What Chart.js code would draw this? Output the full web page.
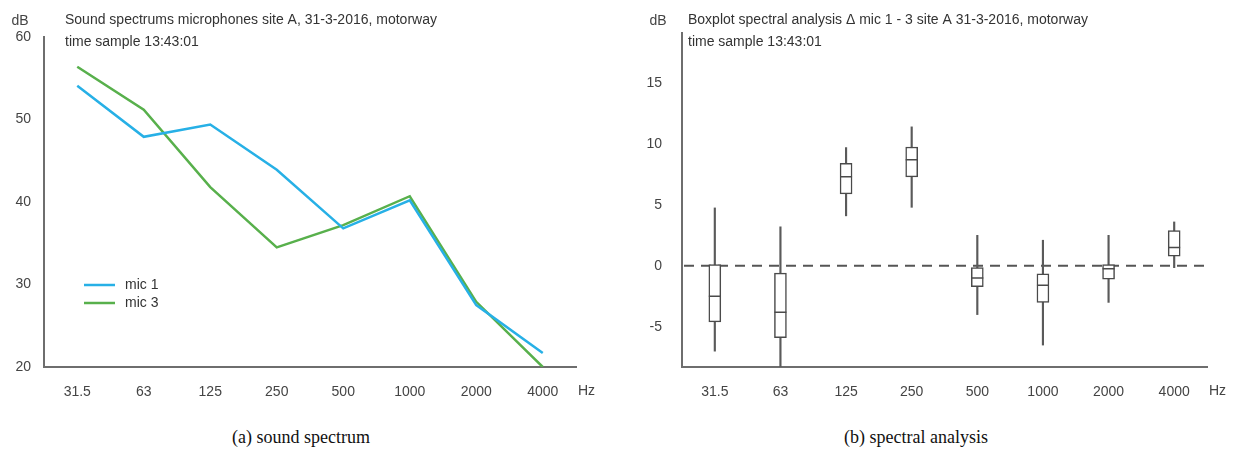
<!DOCTYPE html>
<html>
<head>
<meta charset="utf-8">
<script src="https://cdn.jsdelivr.net/npm/chart.js@4.4.1/dist/chart.umd.min.js"></script>
<style>
    body { margin: 0; background: #fff; width: 1241px; height: 465px; position: relative; overflow: hidden; }
    canvas { position: absolute; top: 0; }
    #spectrum { left: 0; }
    #boxplot { left: 620px; }
    .caption { position: absolute; top: 427px; font-family: "Liberation Serif", "DejaVu Serif", serif; font-size: 18px; color: #111; transform: translateX(-50%); white-space: nowrap; }
</style>
</head>
<body>
<canvas id="spectrum" width="620" height="410"></canvas>
<canvas id="boxplot" width="621" height="410"></canvas>
<div class="caption" style="left: 301px;">(a) sound spectrum</div>
<div class="caption" style="left: 916px;">(b) spectral analysis</div>

<script>
// 1. Data
const freqLabels = ['31.5', '63', '125', '250', '500', '1000', '2000', '4000'];

// (a) sound spectrum, dB
const mic1 = [54.1, 47.9, 49.4, 43.9, 36.8, 40.2, 27.5, 21.7];
const mic3 = [56.4, 51.2, 41.8, 34.5, 37.2, 40.7, 27.9, 20.0];
const spectrumTicks = [20, 30, 40, 50, 60];

// (b) boxplot of delta mic 1 - 3, dB
const whiskLow  = [-7.0, -8.3, 4.1, 4.8, -4.0, -6.5, -3.0, -0.15];
const q1        = [-4.6, -5.9, 5.9, 7.3, -1.7, -3.0, -1.1, 0.8];
const median    = [-2.5, -3.8, 7.3, 8.7, -1.0, -1.6, -0.25, 1.5];
const q3        = [0.1, -0.6, 8.4, 9.75, -0.15, -0.65, 0.1, 2.9];
const whiskHigh = [4.75, 3.2, 9.7, 11.4, 2.5, 2.1, 2.5, 3.6];
const boxTicks = [-5, 0, 5, 10, 15];

// 2. Shared style
const FONT = '"Liberation Sans", Arial, sans-serif';
const TEXT = '#444';
const AXIS = '#6e6e6e';

// draws the dB / Hz units and the two-line title
function labelsPlugin(title, dbX, titleX) {
    return {
        id: 'unitLabels',
        afterDraw(chart) {
            const ctx = chart.ctx;
            const area = chart.chartArea;
            ctx.save();
            ctx.fillStyle = TEXT;
            ctx.font = '14px ' + FONT;
            ctx.textBaseline = 'middle';
            ctx.textAlign = 'center';
            ctx.fillText('dB', dbX, 21);
            ctx.textAlign = 'left';
            ctx.fillText('Hz', area.right + 2, 391);
            ctx.fillStyle = '#333';
            ctx.fillText(title[0], titleX, 20);
            ctx.fillText(title[1], titleX, 42);
            ctx.restore();
        }
    };
}

const legendPlugin = {
    id: 'micLegend',
    afterDraw(chart) {
        const ctx = chart.ctx;
        ctx.save();
        ctx.font = '14px ' + FONT;
        ctx.textBaseline = 'middle';
        chart.data.datasets.forEach((ds, i) => {
            const y = 285 + i * 18;
            ctx.strokeStyle = ds.borderColor;
            ctx.lineWidth = 2.5;
            ctx.beginPath();
            ctx.moveTo(84, y);
            ctx.lineTo(115, y);
            ctx.stroke();
            ctx.fillStyle = '#333';
            ctx.fillText(ds.label, 125, y);
        });
        ctx.restore();
    }
};

const zeroLinePlugin = {
    id: 'zeroLine',
    beforeDatasetsDraw(chart) {
        const ctx = chart.ctx;
        const area = chart.chartArea;
        const y = chart.scales.y.getPixelForValue(0);
        ctx.save();
        ctx.strokeStyle = '#555';
        ctx.lineWidth = 2;
        ctx.setLineDash([10, 7]);
        ctx.beginPath();
        ctx.moveTo(area.left + 2, y);
        ctx.lineTo(area.right, y);
        ctx.stroke();
        ctx.restore();
    }
};

function xScale() {
    return {
        offset: true,
        grid: { display: false, drawTicks: false },
        border: { display: true, color: AXIS, width: 2 },
        ticks: { color: TEXT, font: { family: FONT, size: 14 }, padding: 17, maxRotation: 0, autoSkip: false },
        afterFit: s => { s.height = 43; }
    };
}

// 3. Charts
Chart.defaults.animation = false;
Chart.defaults.responsive = false;

new Chart(document.getElementById('spectrum'), {
    type: 'line',
    data: {
        labels: freqLabels,
        datasets: [
            { label: 'mic 1', data: mic1, borderColor: '#27b0e6', borderWidth: 2.5, pointRadius: 0, tension: 0 },
            { label: 'mic 3', data: mic3, borderColor: '#58b04c', borderWidth: 2.5, pointRadius: 0, tension: 0 }
        ]
    },
    options: {
        layout: { padding: { top: 37, right: 44, left: 0, bottom: 0 } },
        plugins: { legend: { display: false }, tooltip: { enabled: false } },
        scales: {
            x: xScale(),
            y: {
                min: 20, max: 60,
                grid: { display: false, drawTicks: false },
                border: { display: true, color: AXIS, width: 2 },
                ticks: { color: TEXT, font: { family: FONT, size: 14 }, padding: 13 },
                afterBuildTicks: s => { s.ticks = spectrumTicks.map(v => ({ value: v })); },
                afterFit: s => { s.width = 44; }
            }
        }
    },
    plugins: [labelsPlugin(['Sound spectrums microphones site A, 31-3-2016, motorway', 'time sample 13:43:01'], 20, 65), legendPlugin]
});

new Chart(document.getElementById('boxplot'), {
    type: 'bar',
    data: {
        labels: freqLabels,
        datasets: [
            {
                label: 'whisker', order: 3, grouped: false,
                data: whiskLow.map((v, i) => [v, whiskHigh[i]]),
                backgroundColor: '#5a5a5a', borderWidth: 0, barThickness: 1.5
            },
            {
                label: 'box', order: 2, grouped: false,
                data: q1.map((v, i) => [v, q3[i]]),
                backgroundColor: '#fff', borderColor: '#4a4a4a', borderWidth: 1.5, borderSkipped: false, barThickness: 12
            },
            {
                type: 'line', label: 'median', order: 1,
                data: median, showLine: false,
                pointStyle: 'line', pointRadius: 6, pointBorderWidth: 1.5, pointBorderColor: '#4a4a4a'
            }
        ]
    },
    options: {
        layout: { padding: { top: 33, right: 34, left: 0, bottom: 0 } },
        plugins: { legend: { display: false }, tooltip: { enabled: false } },
        scales: {
            x: xScale(),
            y: {
                min: -8.3, max: 19.1,
                grid: { display: false, drawTicks: false },
                border: { display: true, color: AXIS, width: 2 },
                ticks: { color: TEXT, font: { family: FONT, size: 14 }, padding: 20 },
                afterBuildTicks: s => { s.ticks = boxTicks.map(v => ({ value: v })); },
                afterFit: s => { s.width = 62; }
            }
        }
    },
    plugins: [labelsPlugin(['Boxplot spectral analysis \u0394 mic 1 - 3 site A 31-3-2016, motorway', 'time sample 13:43:01'], 38, 68), zeroLinePlugin]
});
</script>
</body>
</html>
